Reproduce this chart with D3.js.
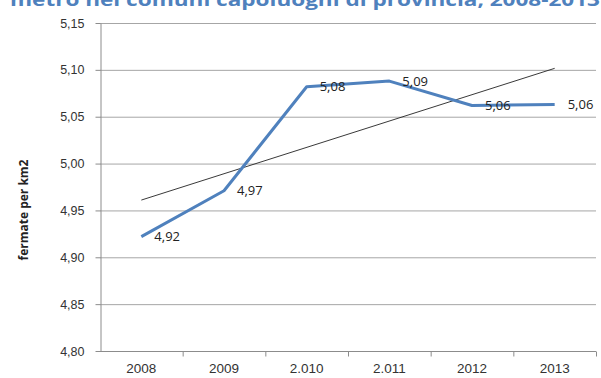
<!DOCTYPE html>
<html>
<head>
<meta charset="utf-8">
<script src="https://cdn.jsdelivr.net/npm/d3@7"></script>
<style>
  body { margin: 0; background: #fff; }
  svg { display: block; font-family: "Open Sans", sans-serif; }
  .axis path, .axis line { stroke: #8c8c8c; }
  .axis text { fill: #333; }
  .y-axis text { font-size: 12.5px; }
  .x-axis text { font-size: 13.5px; }
  .grid line { stroke: #a6a6a6; }
</style>
</head>
<body>
<svg id="chart"></svg>
<script>
// data
const years = ['2008', '2009', '2.010', '2.011', '2012', '2013'];
const values = [4.922, 4.971, 5.082, 5.088, 5.062, 5.063];
const valueLabels = ['4,92', '4,97', '5,08', '5,09', '5,06', '5,06'];
const yTicks = [4.80, 4.85, 4.90, 4.95, 5.00, 5.05, 5.10, 5.15];
const yTickLabels = ['4,80', '4,85', '4,90', '4,95', '5,00', '5,05', '5,10', '5,15'];

class lineChartFermate {
    constructor(_config) {
        this.config = {
            parentElement: _config.parentElement,
            containerWidth: _config.containerWidth || 601,
            containerHeight: _config.containerHeight || 378,
            margin: _config.margin || {top: 23, right: 5, bottom: 27, left: 100}
        };
        this.initVis();
    }

    initVis() {
        let vis = this;
        vis.width = vis.config.containerWidth - vis.config.margin.left - vis.config.margin.right;
        vis.height = vis.config.containerHeight - vis.config.margin.top - vis.config.margin.bottom;

        vis.xScale = d3.scaleBand()
            .domain(years)
            .range([0, vis.width])
            .padding(0);

        vis.yScale = d3.scaleLinear()
            .domain([yTicks[0], yTicks[yTicks.length - 1]])
            .range([vis.height, 0]);

        vis.svg = d3.select(vis.config.parentElement)
            .attr('width', vis.config.containerWidth)
            .attr('height', vis.config.containerHeight);

        vis.chart = vis.svg.append('g')
            .attr('transform', `translate(${vis.config.margin.left},${vis.config.margin.top})`);

        // title (cropped at the top, like the original)
        vis.svg.append('text')
            .attr('x', 10)
            .attr('y', 6)
            .attr('textLength', 590)
            .attr('lengthAdjust', 'spacingAndGlyphs')
            .style('font-size', '18px')
            .style('font-weight', 'bold')
            .style('fill', '#4f81bd')
            .text('metro nei comuni capoluoghi di provincia, 2008-2013');

        // y axis title
        vis.svg.append('text')
            .attr('transform', 'translate(28,210) rotate(-90)')
            .attr('text-anchor', 'middle')
            .style('font-size', '12px')
            .style('font-weight', 'bold')
            .style('fill', '#222')
            .text('fermate per km2');
    }

    renderVis() {
        let vis = this;

        // gridlines
        vis.chart.append('g')
            .attr('class', 'grid')
            .selectAll('line')
            .data(yTicks.slice(1))
            .join('line')
            .attr('x1', 0)
            .attr('x2', vis.width)
            .attr('y1', d => vis.yScale(d) + 0.5)
            .attr('y2', d => vis.yScale(d) + 0.5);

        // y axis
        vis.yAxis = d3.axisLeft(vis.yScale)
            .tickValues(yTicks)
            .tickFormat((d, i) => yTickLabels[i])
            .tickSize(5)
            .tickSizeOuter(0)
            .tickPadding(11);
        vis.chart.append('g')
            .attr('class', 'axis y-axis')
            .attr('transform', 'translate(0.5,0)')
            .call(vis.yAxis);

        // x axis: labels centered in bands, ticks at band edges
        vis.xAxis = d3.axisBottom(vis.xScale)
            .tickSize(0)
            .tickPadding(12);
        let xAxisG = vis.chart.append('g')
            .attr('class', 'axis x-axis')
            .attr('transform', `translate(0,${vis.height + 0.5})`)
            .call(vis.xAxis);
        xAxisG.select('.domain').attr('d', `M0,0H${vis.width}`);
        let edges = years.slice(1).map(d => vis.xScale(d)).concat([vis.width]);
        xAxisG.selectAll('.edge')
            .data(edges)
            .join('line')
            .attr('class', 'edge')
            .attr('x1', d => d + 0.5)
            .attr('x2', d => d + 0.5)
            .attr('y1', 0)
            .attr('y2', 5);

        // linear trendline (least squares over the series)
        let n = values.length;
        let xs = d3.range(1, n + 1);
        let mx = d3.mean(xs), my = d3.mean(values);
        let slope = d3.sum(xs, (x, i) => (x - mx) * (values[i] - my)) / d3.sum(xs, x => (x - mx) * (x - mx));
        let icpt = my - slope * mx;
        let trend = [1, n].map(x => ({year: years[x - 1], v: icpt + slope * x}));

        let cx = d => vis.xScale(d) + vis.xScale.bandwidth() / 2;

        vis.chart.append('path')
            .datum(trend)
            .attr('fill', 'none')
            .attr('stroke', '#222')
            .attr('stroke-width', 0.9)
            .attr('d', d3.line().x(d => cx(d.year)).y(d => vis.yScale(d.v)));

        // main series
        vis.chart.append('path')
            .datum(values)
            .attr('fill', 'none')
            .attr('stroke', '#4f81bd')
            .attr('stroke-width', 3)
            .attr('stroke-linejoin', 'round')
            .attr('d', d3.line().x((d, i) => cx(years[i])).y(d => vis.yScale(d)));

        // data labels
        vis.chart.selectAll('.value-label')
            .data(values)
            .join('text')
            .attr('class', 'value-label')
            .attr('x', (d, i) => cx(years[i]) + 13)
            .attr('y', d => vis.yScale(d))
            .attr('dy', '0.35em')
            .style('font-size', '13px')
            .style('fill', '#222')
            .text((d, i) => valueLabels[i]);
    }
}

let chart = new lineChartFermate({parentElement: '#chart'});
chart.renderVis();
</script>
</body>
</html>
